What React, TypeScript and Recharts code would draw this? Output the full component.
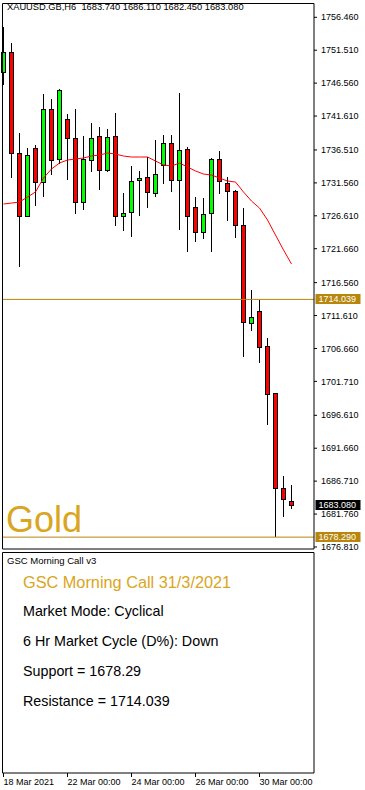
import React from "react";
import { ComposedChart, Bar, Line, XAxis, YAxis, ReferenceLine } from "recharts";

// XAUUSD H6 candles
const opens = [
  1748.23, 1751.24, 1736.05, 1726.58, 1736.8, 1731.69, 1742.67, 1735.15, 1741.16, 1738.31,
  1728.68, 1735.0, 1738.61, 1733.5, 1738.61, 1726.58, 1727.18, 1731.99, 1732.44, 1730.04,
  1734.25, 1737.56, 1731.99, 1736.65, 1727.93, 1724.17, 1727.03, 1735.15, 1731.54, 1730.34,
  1725.22, 1710.49, 1712.29, 1707.03, 1699.96, 1685.67, 1683.74,
];
const highs = [
  1755.0, 1752.59, 1739.06, 1736.8, 1737.25, 1744.92, 1744.17, 1745.68, 1741.92, 1742.67,
  1738.61, 1740.56, 1739.96, 1739.66, 1742.07, 1730.04, 1734.1, 1733.35, 1735.45, 1738.01,
  1738.76, 1738.76, 1745.07, 1736.95, 1729.44, 1729.28, 1735.3, 1736.35, 1732.44, 1730.49,
  1727.78, 1715.45, 1713.95, 1708.23, 1699.96, 1687.48, 1686.11,
];
const lows = [
  1746.28, 1732.29, 1718.91, 1726.58, 1728.08, 1729.44, 1732.74, 1734.4, 1731.99, 1726.88,
  1727.48, 1733.19, 1730.49, 1733.19, 1725.07, 1724.32, 1723.42, 1726.58, 1727.78, 1729.44,
  1731.39, 1730.19, 1724.47, 1721.16, 1722.67, 1723.12, 1721.16, 1729.89, 1725.83, 1723.27,
  1705.37, 1709.28, 1704.47, 1695.15, 1678.29, 1681.31, 1682.45,
];
const closes = [
  1751.24, 1736.05, 1726.58, 1735.75, 1731.69, 1742.67, 1735.0, 1745.53, 1738.31, 1728.68,
  1735.15, 1738.31, 1733.5, 1738.46, 1726.58, 1727.03, 1731.84, 1732.29, 1730.19, 1732.89,
  1737.56, 1731.99, 1736.5, 1726.58, 1724.17, 1726.88, 1735.15, 1731.84, 1730.34, 1725.22,
  1710.64, 1711.39, 1706.88, 1699.81, 1685.67, 1684.02, 1683.08,
];
// red moving average
const maValues = [
  1728.38, 1728.53, 1728.68, 1729.44, 1730.19, 1732.29, 1733.65, 1734.55, 1735.0, 1735.15,
  1735.3, 1735.6, 1735.75, 1736.05, 1735.9, 1735.6, 1735.45, 1735.45, 1735.45, 1734.85,
  1734.25, 1734.1, 1734.55, 1733.95, 1733.35, 1732.89, 1732.74, 1732.29, 1731.84, 1731.69,
  1730.19, 1728.83, 1727.78, 1725.98, 1723.72, 1721.47, 1719.36,
];

const priceTicks = [
  1756.46, 1751.51, 1746.56, 1741.61, 1736.51, 1731.56, 1726.61, 1721.66, 1716.56,
  1711.61, 1706.66, 1701.71, 1696.61, 1691.66, 1686.71, 1681.76, 1676.81,
];
const dateTicks = [0, 8, 16, 24, 32];
const dateLabels = ["18 Mar 2021", "22 Mar 00:00", "24 Mar 00:00", "26 Mar 00:00", "30 Mar 00:00"];
const panelTicks = [15, 100];

const RESISTANCE = 1714.039;
const SUPPORT = 1678.29;
const LAST = { o: 1683.74, h: 1686.11, l: 1682.45, c: 1683.08 };

const panelLines = [
  "Market Mode: Cyclical",
  "6 Hr Market Cycle (D%): Down",
  "Support = 1678.29",
  "Resistance = 1714.039",
];

const FONT = '"Liberation Sans", Arial, sans-serif';
const GOLD = "#B8860B";
const GOLD_TEXT = "#DAA520";
const X_DOMAIN: [number, number] = [-0.125, 38.8125];
const PRICE_DOMAIN: [number, number] = [1676.505, 1758.535];
const PANEL_DOMAIN: [number, number] = [12.55, 102.66];

const candles = opens.map((o, i) => ({
  i,
  o,
  h: highs[i],
  l: lows[i],
  c: closes[i],
  range: [lows[i], highs[i]],
  ma: maValues[i],
}));

const Candle = (props: any) => {
  const { x, y, width, height, payload } = props;
  if (x == null || y == null) return null;
  const cx = Math.round(x + width / 2 - 0.5) + 0.5;
  const { o, h, l, c } = payload;
  const toY = (v: number) => y + ((h - v) / (h - l || 1)) * height;
  const top = Math.round(toY(Math.max(o, c))) + 0.5;
  let bot = Math.round(toY(Math.min(o, c))) + 0.5;
  if (bot - top < 1) bot = top + 1;
  return (
    <g>
      <line x1={cx} x2={cx} y1={Math.round(y)} y2={Math.round(y + height)} stroke="#000" strokeWidth={1} />
      <rect x={cx - 2} y={top} width={4} height={bot - top} fill={c >= o ? "#00FF00" : "#FF0000"} stroke="#000" strokeWidth={1} />
    </g>
  );
};

const PriceTag = (props: any) => {
  const { viewBox, price, bg } = props;
  if (!viewBox) return null;
  const left = viewBox.x + viewBox.width + 1.5;
  const cy = Math.round(viewBox.y);
  return (
    <g>
      <rect x={left} y={cy - 5} width={45} height={10} fill={bg} />
      <text x={left + 3} y={cy} dy="0.35em" fontSize={9} fill="#fff" fontFamily={FONT}>
        {price.toFixed(3)}
      </text>
    </g>
  );
};

// thin axes used only to draw the window frame
const frameLine = { stroke: "#000", strokeWidth: 1 };

function MainChart() {
  return (
    <ComposedChart width={365} height={551} data={candles} margin={{ top: 2.5, right: 0, bottom: 1, left: 1.5 }}>
      <XAxis dataKey="i" type="number" domain={X_DOMAIN} height={1} tick={false} tickLine={false} axisLine={frameLine} />
      <XAxis xAxisId="top" orientation="top" dataKey="i" type="number" domain={X_DOMAIN} height={1} tick={false} tickLine={false} axisLine={frameLine} />
      <YAxis yAxisId="left" orientation="left" width={1} domain={PRICE_DOMAIN} tick={false} tickLine={false} axisLine={frameLine} />
      <YAxis
        orientation="right"
        width={51}
        domain={PRICE_DOMAIN}
        allowDataOverflow
        ticks={priceTicks}
        interval={0}
        tickFormatter={(v: number) => v.toFixed(3)}
        tick={{ fontSize: 9, fill: "#000", fontFamily: FONT }}
        tickSize={3}
        tickMargin={4}
        tickLine={frameLine}
        axisLine={frameLine}
      />
      <ReferenceLine y={RESISTANCE} stroke={GOLD} strokeWidth={1} label={<PriceTag price={RESISTANCE} bg={GOLD} />} />
      <ReferenceLine y={SUPPORT} stroke={GOLD} strokeWidth={1} label={<PriceTag price={SUPPORT} bg={GOLD} />} />
      <ReferenceLine y={LAST.c} stroke="none" label={<PriceTag price={LAST.c} bg="#000" />} />
      <Line dataKey="ma" type="linear" stroke="#FF0000" strokeWidth={1} dot={false} isAnimationActive={false} />
      <Bar dataKey="range" barSize={5} shape={<Candle />} isAnimationActive={false} />
    </ComposedChart>
  );
}

function PanelChart() {
  return (
    <ComposedChart width={365} height={239} data={candles} margin={{ top: 0.5, right: 0, bottom: 0, left: 1.5 }}>
      <XAxis
        dataKey="i"
        type="number"
        domain={X_DOMAIN}
        ticks={dateTicks}
        interval={0}
        height={17}
        tickFormatter={(v: number) => dateLabels[dateTicks.indexOf(v)] ?? ""}
        tick={{ fontSize: 9, fill: "#000", fontFamily: FONT, textAnchor: "start" }}
        tickSize={4}
        tickMargin={2}
        tickLine={frameLine}
        axisLine={frameLine}
      />
      <XAxis xAxisId="top" orientation="top" dataKey="i" type="number" domain={X_DOMAIN} height={1} tick={false} tickLine={false} axisLine={frameLine} />
      <YAxis yAxisId="left" orientation="left" width={1} domain={PANEL_DOMAIN} tick={false} tickLine={false} axisLine={frameLine} />
      <YAxis
        orientation="right"
        width={51}
        domain={PANEL_DOMAIN}
        ticks={panelTicks}
        interval={0}
        tick={{ fontSize: 9, fill: "#000", fontFamily: FONT }}
        tickSize={3}
        tickMargin={3}
        tickLine={frameLine}
        axisLine={frameLine}
      />
    </ComposedChart>
  );
}

export default function App() {
  return (
    <div style={{ position: "absolute", left: 0, top: 0, width: 365, height: 790, background: "#fff", fontFamily: FONT, overflow: "hidden" }}>
      <div style={{ position: "absolute", left: 0, top: 0 }}>
        <MainChart />
      </div>
      <div style={{ position: "absolute", left: 0, top: 551 }}>
        <PanelChart />
      </div>
      <div style={{ position: "absolute", left: 7, top: 2, fontSize: 9.3, color: "#000", whiteSpace: "pre", lineHeight: "11px" }}>
        {`XAUUSD.GB,H6  ${LAST.o.toFixed(3)} ${LAST.h.toFixed(3)} ${LAST.l.toFixed(3)} ${LAST.c.toFixed(3)}`}
      </div>
      <div style={{ position: "absolute", left: 6, top: 500, fontSize: 36, color: GOLD_TEXT, lineHeight: "40px" }}>Gold</div>
      <div style={{ position: "absolute", left: 7, top: 555, fontSize: 9.5, color: "#000", lineHeight: "12px" }}>GSC Morning Call v3</div>
      <div style={{ position: "absolute", left: 23, top: 572, fontSize: 16.3, color: GOLD_TEXT, lineHeight: "20px", whiteSpace: "pre" }}>
        GSC Morning Call 31/3/2021
      </div>
      {panelLines.map((t, k) => (
        <div key={t} style={{ position: "absolute", left: 23, top: 602 + k * 30, fontSize: 14.3, color: "#000", lineHeight: "18px", whiteSpace: "pre" }}>
          {t}
        </div>
      ))}
    </div>
  );
}
